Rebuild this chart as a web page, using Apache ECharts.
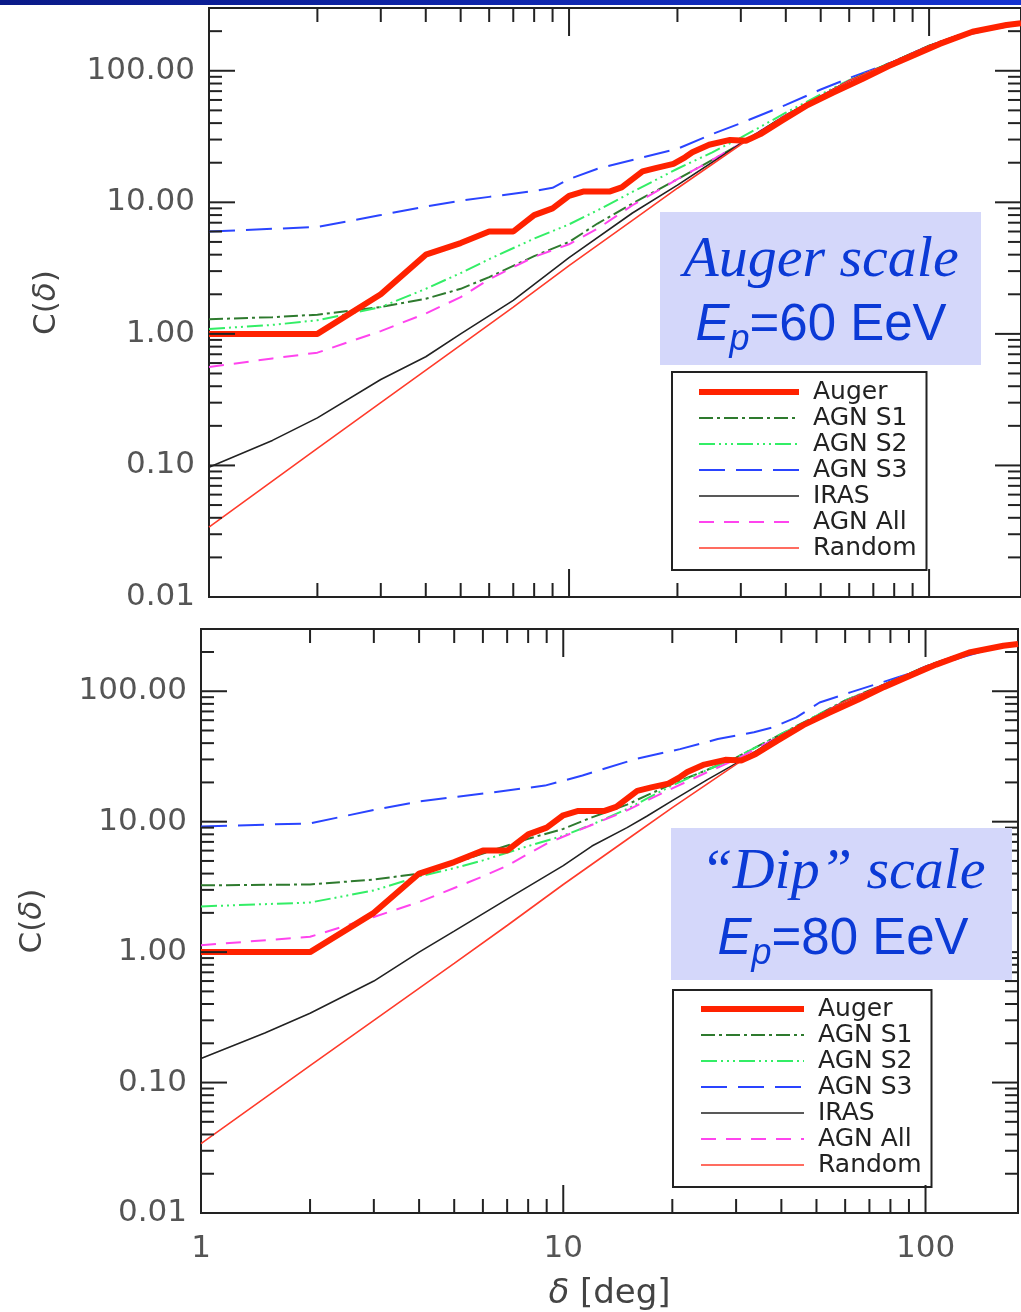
<!DOCTYPE html>
<html><head><meta charset="utf-8">
<script src="https://cdn.jsdelivr.net/npm/echarts@6/dist/echarts.min.js"></script>
<style>html,body{margin:0;padding:0;background:#fff}#c{width:1021px;height:1312px}</style>
</head><body><div id="c"></div>
<script>
// ---------- data ----------
const legendNames = ['Auger', 'AGN S1', 'AGN S2', 'AGN S3', 'IRAS', 'AGN All', 'Random'];

// Auger (same in both panels)
const augerX = [1, 2, 3, 4, 5, 6, 7, 8, 9, 10, 11, 13, 14, 16, 17.5, 19.5, 21, 22, 24.5, 28, 31, 34, 39, 46, 54, 65, 77, 91, 107, 132, 164, 180];
const augerY = [1.0, 1.0, 2.0, 4.0, 4.9, 6.0, 6.0, 8.0, 9.0, 11.2, 12.1, 12.1, 13.0, 17.2, 18.3, 19.6, 22, 24, 27.4, 29.8, 29.4, 33, 41.7, 55, 68, 86, 108, 132, 160, 198, 223, 230];

// Random (same in both panels)
const randomX = [1, 2, 3, 5, 7, 10, 15, 20, 30, 40, 50, 60, 80, 100, 120, 150, 180];
const randomY = [0.034, 0.135, 0.30, 0.82, 1.6, 3.3, 7.3, 12.8, 27.5, 46, 64, 84, 118, 155, 185, 212, 228];

// Top panel (Auger scale, Ep = 60 EeV)
const topS1X = [1, 1.5, 2, 3, 4, 5, 6, 8, 10, 12, 15, 20, 25, 30, 40, 50, 60, 80, 100, 120, 150, 180];
const topS1Y = [1.29, 1.34, 1.40, 1.60, 1.85, 2.2, 2.7, 3.9, 5.0, 6.9, 9.8, 15, 21, 28, 46, 64, 84, 118, 155, 185, 212, 228];
const topS2X = [1, 1.5, 2, 3, 4, 5, 6, 8, 10, 12, 15, 20, 25, 30, 40, 50, 60, 80, 100, 120, 150, 180];
const topS2Y = [1.09, 1.17, 1.27, 1.60, 2.2, 2.9, 3.7, 5.3, 6.8, 8.7, 12, 18, 24, 31, 48, 66, 85, 118, 155, 185, 212, 228];
const topS3X = [1, 2, 3, 4, 5, 6, 8, 9, 10, 12, 15, 20, 25, 30, 40, 50, 60, 80, 100, 120, 150, 180];
const topS3Y = [6.0, 6.5, 8.0, 9.3, 10.3, 11.0, 12.2, 12.9, 15, 18, 21, 25.5, 33, 40, 55, 72, 88, 118, 150, 180, 208, 226];
const topIrasX = [1, 1.5, 2, 3, 4, 5, 7, 10, 15, 20, 30, 40, 50, 60, 80, 100, 120, 150, 180];
const topIrasY = [0.097, 0.155, 0.23, 0.45, 0.67, 1.0, 1.8, 3.8, 8.3, 13.5, 28, 46, 64, 84, 118, 155, 185, 212, 228];
const topAllX = [1, 1.5, 2, 3, 4, 5, 6, 8, 10, 12, 15, 20, 25, 30, 40, 50, 60, 80, 100, 120, 150, 180];
const topAllY = [0.56, 0.65, 0.72, 1.05, 1.43, 1.9, 2.6, 3.85, 4.8, 6.3, 9.5, 15, 21, 28, 46, 64, 84, 118, 155, 185, 212, 228];

// Bottom panel ("Dip" scale, Ep = 80 EeV)
const botS1X = [1, 2, 3, 4, 5, 6, 8, 10, 12, 15, 17, 20, 25, 30, 40, 50, 60, 80, 100, 120, 150, 180];
const botS1Y = [3.25, 3.3, 3.6, 4.0, 4.8, 5.7, 7.4, 8.8, 10.8, 13.5, 15.9, 19.5, 25, 31, 47, 65, 85, 118, 155, 185, 212, 228];
const botS2X = [1, 2, 3, 4, 5, 6, 8, 10, 12, 15, 17, 20, 25, 30, 40, 50, 60, 80, 100, 120, 150, 180];
const botS2Y = [2.24, 2.4, 2.97, 3.8, 4.4, 5.05, 6.5, 7.8, 9.5, 12.5, 15, 19, 25, 31, 47, 65, 85, 118, 155, 185, 212, 228];
const botS3X = [1, 2, 3, 4, 6.4, 8.9, 11.3, 15.9, 21, 26.7, 33.6, 38, 44, 51, 62, 84, 126, 155, 180];
const botS3Y = [9.2, 9.7, 12.3, 14.3, 16.8, 18.9, 22.6, 30.3, 36, 43, 48.5, 53, 63, 82, 98, 128, 182, 215, 226];
const botIrasX = [1, 1.5, 2, 3, 4, 5, 7, 10, 12, 15, 17, 20, 25, 30, 40, 50, 60, 80, 100, 120, 150, 180];
const botIrasY = [0.153, 0.24, 0.34, 0.6, 1.0, 1.45, 2.55, 4.6, 6.5, 9, 11, 14.5, 21, 28, 46, 64, 84, 118, 155, 185, 212, 228];
const botAllX = [1, 2, 3, 4, 5, 6, 7, 9, 11.6, 15, 17, 20, 25, 30, 40, 50, 60, 80, 100, 120, 150, 180];
const botAllY = [1.13, 1.31, 1.86, 2.42, 3.1, 3.8, 4.6, 6.8, 9.1, 12.2, 14.5, 18, 24, 30, 46, 64, 84, 118, 155, 185, 212, 228];

// Tick values
const xMajorTicks = [1, 10, 100];
const xMinorTicks = [2, 3, 4, 5, 6, 7, 8, 9, 20, 30, 40, 50, 60, 70, 80, 90];
const yMajorTicks = [0.01, 0.1, 1, 10, 100];
const yMinorTicks = [0.02, 0.03, 0.04, 0.05, 0.06, 0.07, 0.08, 0.09, 0.2, 0.3, 0.4, 0.5, 0.6, 0.7, 0.8, 0.9, 2, 3, 4, 5, 6, 7, 8, 9, 20, 30, 40, 50, 60, 70, 80, 90, 200];

// ---------- styles ----------
const styles = {
  'Auger':   {color: '#ff2200', width: 6,   type: 'solid'},
  'AGN S1':  {color: '#2e7a2e', width: 2,   type: [14, 4, 3, 4]},
  'AGN S2':  {color: '#33ee66', width: 2,   type: [16, 4, 2, 4, 2, 4, 2, 4]},
  'AGN S3':  {color: '#2a44ff', width: 2,   type: [26, 11]},
  'IRAS':    {color: '#222222', width: 1.6, type: 'solid'},
  'AGN All': {color: '#ff44ee', width: 2,   type: [15, 10]},
  'Random':  {color: '#ff3b2b', width: 1.6, type: 'solid'}
};
const FONT = 'DejaVu Sans';

function lineSeries(name, xs, ys, gi) {
  const s = styles[name];
  return {
    type: 'line', name: name, xAxisIndex: gi, yAxisIndex: gi,
    data: xs.map((x, i) => [x, ys[i]]),
    symbol: 'none', showSymbol: false, silent: true, animation: false,
    lineStyle: {color: s.color, width: s.width, type: s.type},
    itemStyle: {color: s.color},
    z: name === 'Auger' ? 6 : 3
  };
}

function tickSeries(gi) {
  const data = [];
  xMajorTicks.forEach(v => data.push([v, 1, 0, 1]));
  xMinorTicks.forEach(v => data.push([v, 1, 0, 0]));
  yMajorTicks.forEach(v => data.push([1, v, 1, 1]));
  yMinorTicks.forEach(v => data.push([1, v, 1, 0]));
  return {
    type: 'custom', xAxisIndex: gi, yAxisIndex: gi, silent: true, animation: false, clip: false, z: 8,
    data: data,
    renderItem: function (params, api) {
      const cs = params.coordSys;
      const kind = api.value(2), major = api.value(3);
      const st = {stroke: '#222', lineWidth: 2};
      let lines = [];
      if (kind === 0) {
        const len = major ? 28 : 14;
        const px = api.coord([api.value(0), 1])[0];
        const yb = cs.y + cs.height, yt = cs.y;
        lines.push({type: 'line', shape: {x1: px, y1: yb, x2: px, y2: yb - len}, style: st});
        lines.push({type: 'line', shape: {x1: px, y1: yt, x2: px, y2: yt + len}, style: st});
      } else {
        const len = major ? 26 : 13;
        const py = api.coord([1, api.value(1)])[1];
        const xl = cs.x, xr = cs.x + cs.width;
        lines.push({type: 'line', shape: {x1: xl, y1: py, x2: xl + len, y2: py}, style: st});
        lines.push({type: 'line', shape: {x1: xr, y1: py, x2: xr - len, y2: py}, style: st});
      }
      return {type: 'group', children: lines};
    }
  };
}

function isDecade(v) { const l = Math.log10(v); return Math.abs(l - Math.round(l)) < 1e-6; }

function xAxis(gi, showLabels) {
  return {
    type: 'log', gridIndex: gi, min: 1, max: 180, logBase: 10,
    axisLine: {show: false}, axisTick: {show: false}, splitLine: {show: false},
    axisLabel: {show: showLabels, fontFamily: FONT, fontSize: 31, color: '#555', margin: 20,
      formatter: v => isDecade(v) ? String(Math.round(v)) : ''},
    name: showLabels ? '{i|δ} [deg]' : '',
    nameLocation: 'middle', nameGap: 64,
    nameTextStyle: {fontFamily: FONT, fontSize: 34, color: '#444',
      rich: {i: {fontFamily: FONT, fontSize: 34, fontStyle: 'italic', color: '#444'}}}
  };
}
function yAxis(gi, gap) {
  return {
    type: 'log', gridIndex: gi, min: 0.01, max: 300, logBase: 10,
    axisLine: {show: false}, axisTick: {show: false}, splitLine: {show: false},
    axisLabel: {fontFamily: FONT, fontSize: 31, color: '#555', margin: 14,
      formatter: v => isDecade(v) ? Number(v).toFixed(2) : ''},
    name: 'C({i|δ})', nameLocation: 'middle', nameRotate: 90, nameGap: gap,
    nameTextStyle: {fontFamily: FONT, fontSize: 31, color: '#444',
      rich: {i: {fontFamily: FONT, fontSize: 31, fontStyle: 'italic', color: '#444'}}}
  };
}

function legend(left, top, padding, itemWidth) {
  return {
    left: left, top: top, orient: 'vertical', data: legendNames, selectedMode: false,
    itemWidth: itemWidth, itemHeight: 14, itemGap: 0, padding: padding,
    borderColor: '#222', borderWidth: 2, backgroundColor: '#fff', borderRadius: 0,
    itemStyle: {opacity: 0},
    lineStyle: {width: 'inherit', type: 'inherit'},
    textStyle: {fontFamily: FONT, fontSize: 25, color: '#222', lineHeight: 26, padding: [0, 0, 0, 9]}
  };
}

const blue = '#0b3ad6';
function bigText(x, y, txt) {
  return {type: 'text', x: x, y: y, z: 101,
    style: {text: txt, fontFamily: 'Liberation Serif', fontStyle: 'italic', fontSize: 58, fill: blue,
      textAlign: 'center', textVerticalAlign: 'middle'}};
}
function energyText(x, y, val) {
  return {type: 'text', x: x, y: y, z: 101,
    style: {text: '{e|E}{s|p}{n|=' + val + ' EeV}', textAlign: 'center', textVerticalAlign: 'middle',
      rich: {
        e: {fontFamily: 'Liberation Sans', fontStyle: 'italic', fontSize: 51, fill: blue, lineHeight: 51},
        s: {fontFamily: 'Liberation Sans', fontStyle: 'italic', fontSize: 36, fill: blue, padding: [28, 0, 0, 0]},
        n: {fontFamily: 'Liberation Sans', fontSize: 51, fill: blue, lineHeight: 51}
      }}};
}

const series = [];
[[0, topS3X, topS3Y, topS1X, topS1Y, topS2X, topS2Y, topAllX, topAllY, topIrasX, topIrasY],
 [1, botS3X, botS3Y, botS1X, botS1Y, botS2X, botS2Y, botAllX, botAllY, botIrasX, botIrasY]].forEach(p => {
  const gi = p[0];
  series.push(lineSeries('AGN S3', p[1], p[2], gi));
  series.push(lineSeries('AGN S1', p[3], p[4], gi));
  series.push(lineSeries('AGN S2', p[5], p[6], gi));
  series.push(lineSeries('AGN All', p[7], p[8], gi));
  series.push(lineSeries('IRAS', p[9], p[10], gi));
  series.push(lineSeries('Random', randomX, randomY, gi));
  series.push(lineSeries('Auger', augerX, augerY, gi));
  series.push(tickSeries(gi));
});

const chart = echarts.init(document.getElementById('c'), null, {renderer: 'canvas'});
chart.setOption({
  animation: false,
  backgroundColor: '#fff',
  grid: [
    {left: 209, top: 8, width: 819, height: 589, show: true, borderColor: '#222', borderWidth: 2, backgroundColor: 'transparent'},
    {left: 201, top: 629, width: 836, height: 584, show: true, borderColor: '#222', borderWidth: 2, backgroundColor: 'transparent'}
  ],
  xAxis: [xAxis(0, false), xAxis(1, true)],
  yAxis: [yAxis(0, 147), yAxis(1, 153)],
  legend: [legend(672, 372, [7, 10, 9, 24], 100), legend(673, 990, [6, 10, 9, 25], 103)],
  series: series,
  graphic: [
    {type: 'rect', shape: {x: 0, y: 0, width: 1021, height: 5}, z: 100,
      style: {fill: new echarts.graphic.LinearGradient(0, 0, 1, 0, [{offset: 0, color: '#0a1a88'}, {offset: 1, color: '#1533d0'}])}},
    {type: 'rect', shape: {x: 660, y: 212, width: 321, height: 153}, z: 100, style: {fill: '#d4d7fa'}},
    bigText(821, 261, 'Auger scale'),
    energyText(821, 326, '60'),
    {type: 'rect', shape: {x: 671, y: 828, width: 341, height: 152}, z: 100, style: {fill: '#d4d7fa'}},
    bigText(843, 873, '\u201CDip\u201D scale'),
    energyText(843, 940, '80')
  ]
});
</script>
</body></html>
